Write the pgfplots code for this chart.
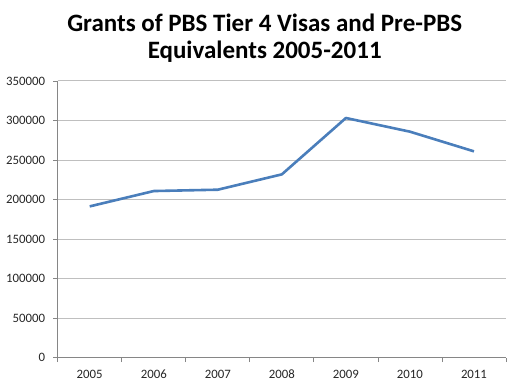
\documentclass[border=0pt]{standalone}
\usepackage{pgfplots}
\pgfplotsset{compat=1.18}
\usepackage{fontspec}
\setmainfont{Carlito}
\definecolor{lineblue}{HTML}{4A7EBB}
\definecolor{gridgray}{HTML}{BFBFBF}
\definecolor{axisgray}{HTML}{868686}
\begin{document}
\begin{tikzpicture}
\useasboundingbox (-57.7pt,-29.3pt) rectangle (459.3pt,357.7pt);
\begin{axis}[
  scale only axis,
  width=448.3pt, height=276.7pt,
  xmin=-0.5, xmax=6.5,
  ymin=0, ymax=350000,
  xtick={0,1,2,3,4,5,6},
  xticklabels={2005,2006,2007,2008,2009,2010,2011},
  major x tick style={draw=none},
  minor xtick={-0.5,0.5,1.5,2.5,3.5,4.5,5.5,6.5},
  minor tick length=4.5pt,
  ytick={0,50000,...,350000},
  major tick length=4.5pt,
  tick align=outside,
  tick style={axisgray, line width=0.8pt},
  ymajorgrids,
  grid style={gridgray, line width=1pt},
  axis x line*=bottom,
  axis y line*=left,
  axis line style={axisgray, line width=0.8pt, -},
  scaled y ticks=false,
  /pgf/number format/.cd, fixed, 1000 sep={}, assume math mode=true,
  /pgfplots/.cd,
  tick label style={font=\fontsize{12.8}{15}\selectfont, text=black!85},
  yticklabel style={xshift=-4.5pt},
  xticklabel style={yshift=-4.5pt},
]
\addplot[lineblue, line width=2.6pt, line join=round] coordinates {
  (0,191400) (1,210800) (2,212500) (3,231900) (4,303200) (5,285900) (6,261000)
};
\end{axis}
\node[anchor=base, font=\fontsize{25}{27}\selectfont\bfseries] at (207pt,326pt) {Grants of PBS Tier 4 Visas and Pre-PBS};
\node[anchor=base, font=\fontsize{25}{27}\selectfont\bfseries] at (207pt,299.4pt) {Equivalents 2005-2011};
\end{tikzpicture}
\end{document}
